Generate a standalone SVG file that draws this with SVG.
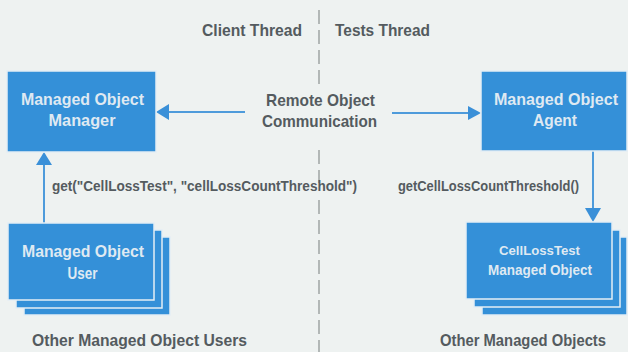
<svg xmlns="http://www.w3.org/2000/svg" width="628" height="352" viewBox="0 0 628 352">
  <defs>
    <style>
      .lbl { font-family: "Liberation Sans", Arial, sans-serif; font-weight: bold; fill: #545b5f; }
      .big { font-size: 17px; }
      .sm { font-size: 14px; }
      .box { fill: #3490d8; stroke: #e4eef5; stroke-width: 1.5; }
      .bt { font-family: "Liberation Sans", Arial, sans-serif; font-weight: bold; fill: #dfe9f2; font-size: 17px; text-anchor: middle; }
      .conn { stroke: #4e9bdb; stroke-width: 2; fill: none; }
      .head { fill: #3a90d8; }
      .div { stroke: #a3a9a8; stroke-width: 1.6; stroke-dasharray: 14 6; fill: none; }
    </style>
  </defs>
  <rect x="0" y="0" width="628" height="352" fill="#eef2f1"/>

  <g id="divider">
    <line class="div" x1="319" y1="10" x2="319" y2="84"/>
    <line class="div" x1="319" y1="150" x2="319" y2="183"/>
    <line class="div" x1="319" y1="200" x2="319" y2="352"/>
  </g>

  <g id="thread-labels">
    <text class="lbl big" x="202" y="36" textLength="100" lengthAdjust="spacingAndGlyphs">Client Thread</text>
    <text class="lbl big" x="335" y="36" textLength="95" lengthAdjust="spacingAndGlyphs">Tests Thread</text>
  </g>

  <g id="remote-label">
    <text class="lbl big" x="266" y="106" textLength="109" lengthAdjust="spacingAndGlyphs">Remote Object</text>
    <text class="lbl big" x="262" y="127" textLength="115" lengthAdjust="spacingAndGlyphs">Communication</text>
  </g>

  <g id="connectors">
    <line class="conn" x1="245" y1="112" x2="168" y2="112"/>
    <polygon class="head" points="156,112 169,104 169,120"/>
    <line class="conn" x1="392" y1="113" x2="470" y2="113"/>
    <polygon class="head" points="481,113 468,106 468,120"/>
    <line class="conn" x1="44" y1="223" x2="44" y2="164"/>
    <polygon class="head" points="44,152 36,165 52,165"/>
    <line class="conn" x1="593" y1="151" x2="593" y2="210"/>
    <polygon class="head" points="593,222 585,208 601,208"/>
    <text class="lbl sm" x="52" y="191" textLength="305" lengthAdjust="spacingAndGlyphs">get("CellLossTest", "cellLossCountThreshold")</text>
    <text class="lbl sm" x="398" y="191" textLength="181" lengthAdjust="spacingAndGlyphs">getCellLossCountThreshold()</text>
  </g>

  <g id="manager">
    <rect class="box" x="7" y="71" width="149" height="81"/>
    <text class="bt" x="82.5" y="105" textLength="123" lengthAdjust="spacingAndGlyphs">Managed Object</text>
    <text class="bt" x="82" y="126" textLength="67" lengthAdjust="spacingAndGlyphs">Manager</text>
  </g>

  <g id="agent">
    <rect class="box" x="481" y="71" width="146" height="80"/>
    <text class="bt" x="556" y="105" textLength="124" lengthAdjust="spacingAndGlyphs">Managed Object</text>
    <text class="bt" x="555" y="126" textLength="44" lengthAdjust="spacingAndGlyphs">Agent</text>
  </g>

  <g id="users">
    <rect class="box" x="24" y="237" width="146" height="78"/>
    <rect class="box" x="16" y="230" width="146" height="78"/>
    <rect class="box" x="8" y="223" width="146" height="77"/>
    <text class="bt" x="83" y="257" textLength="122" lengthAdjust="spacingAndGlyphs">Managed Object</text>
    <text class="bt" x="82.5" y="279" textLength="30" lengthAdjust="spacingAndGlyphs">User</text>
    <text class="lbl big" x="32" y="346" textLength="215" lengthAdjust="spacingAndGlyphs">Other Managed Object Users</text>
  </g>

  <g id="managed-objects">
    <rect class="box" x="482" y="237" width="145" height="78"/>
    <rect class="box" x="474" y="230" width="146" height="77"/>
    <rect class="box" x="466" y="222" width="146" height="77"/>
    <text class="bt" x="539.5" y="255" style="font-size:13px" textLength="81" lengthAdjust="spacingAndGlyphs">CellLossTest</text>
    <text class="bt" x="540" y="275" style="font-size:15.5px" textLength="104" lengthAdjust="spacingAndGlyphs">Managed Object</text>
    <text class="lbl" x="440" y="346" style="font-size:16px" textLength="166" lengthAdjust="spacingAndGlyphs">Other Managed Objects</text>
  </g>
</svg>
